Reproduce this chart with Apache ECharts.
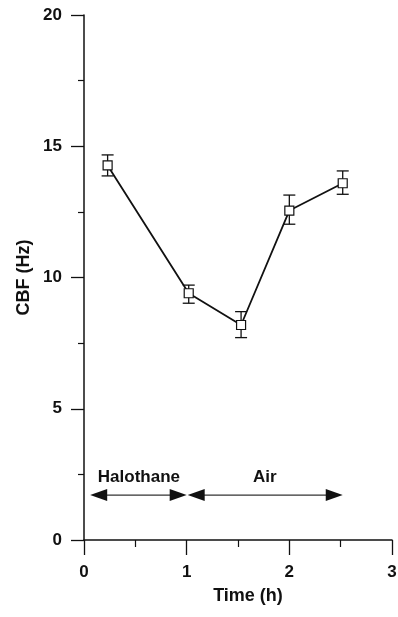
<!DOCTYPE html>
<html>
<head>
<meta charset="utf-8">
<script src="https://cdn.jsdelivr.net/npm/echarts@6/dist/echarts.min.js"></script>
<style>
html,body{margin:0;padding:0;background:#fff;}
#chart{width:398px;height:617px;}
</style>
</head>
<body>
<div id="chart"></div>
<script>
// ---- data ----
const timeH   = [0.23, 1.02, 1.53, 2.0, 2.52];
const cbfMean = [14.27, 9.4, 8.19, 12.55, 13.59];
const cbfLow  = [13.87, 9.02, 7.71, 12.03, 13.17];
const cbfHigh = [14.67, 9.71, 8.7, 13.14, 14.06];

const xMin = 0, xMax = 3, xStep = 1;
const yMin = 0, yMax = 20, yStep = 5;

const phaseNames  = ['Halothane', 'Air'];
const phaseStart  = [0.06, 1.01];
const phaseEnd    = [1.0, 2.52];
const phaseArrowY = [1.71, 1.71];
const phaseLabelX = [0.535, 1.76];
const phaseLabelY = [2.4, 2.4];

const FONT = 'Liberation Sans, Arial, sans-serif';
const INK = '#111';
const WEIGHT = 'bold';

const chart = echarts.init(document.getElementById('chart'), null, {renderer: 'canvas'});

const points = timeH.map((t, i) => [t, cbfMean[i]]);
const bars = timeH.map((t, i) => [t, cbfLow[i], cbfHigh[i]]);
const phases = phaseNames.map((n, i) => [phaseStart[i], phaseEnd[i], phaseArrowY[i], phaseLabelX[i], phaseLabelY[i], n]);

chart.setOption({
  animation: false,
  backgroundColor: '#fff',
  grid: {left: 84, right: 6, top: 15, bottom: 77, containLabel: false, outerBoundsMode: 'none'},
  xAxis: {
    type: 'value', min: xMin, max: xMax, interval: xStep,
    splitLine: {show: false},
    axisLine: {show: true, onZero: false, lineStyle: {color: INK, width: 1.5}},
    axisTick: {show: true, length: 15, lineStyle: {color: INK, width: 1.3}},
    minorTick: {show: true, splitNumber: 2, length: 7, lineStyle: {color: INK, width: 1.2}},
    axisLabel: {margin: 24, color: INK, fontSize: 17, fontWeight: WEIGHT, fontFamily: FONT},
    name: 'Time (h)', nameLocation: 'middle', nameGap: 47, nameMoveOverlap: false,
    nameTextStyle: {color: INK, fontSize: 18, fontWeight: WEIGHT, fontFamily: FONT, padding: [0, 0, 0, 20]}
  },
  yAxis: {
    type: 'value', min: yMin, max: yMax, interval: yStep,
    splitLine: {show: false},
    axisLine: {show: true, onZero: false, lineStyle: {color: INK, width: 1.5}},
    axisTick: {show: true, length: 13, lineStyle: {color: INK, width: 1.3}},
    minorTick: {show: true, splitNumber: 2, length: 6, lineStyle: {color: INK, width: 1.2}},
    axisLabel: {margin: 22, color: INK, fontSize: 17, fontWeight: WEIGHT, fontFamily: FONT},
    name: 'CBF (Hz)', nameLocation: 'middle', nameGap: 51, nameMoveOverlap: false,
    nameTextStyle: {color: INK, fontSize: 18, fontWeight: WEIGHT, fontFamily: FONT}
  },
  series: [
    {
      type: 'custom',
      z: 2,
      data: bars,
      renderItem: function (params, api) {
        const x = api.value(0);
        const lo = api.coord([x, api.value(1)]);
        const hi = api.coord([x, api.value(2)]);
        const cw = 6;
        const st = {stroke: INK, lineWidth: 1.3};
        return {type: 'group', children: [
          {type: 'line', shape: {x1: lo[0], y1: lo[1], x2: hi[0], y2: hi[1]}, style: st},
          {type: 'line', shape: {x1: lo[0] - cw, y1: lo[1], x2: lo[0] + cw, y2: lo[1]}, style: st},
          {type: 'line', shape: {x1: hi[0] - cw, y1: hi[1], x2: hi[0] + cw, y2: hi[1]}, style: st}
        ]};
      }
    },
    {
      type: 'line',
      z: 5,
      data: points,
      symbol: 'rect',
      symbolSize: 9,
      showAllSymbol: true,
      lineStyle: {color: INK, width: 1.8},
      itemStyle: {color: '#fff', borderColor: INK, borderWidth: 1.2}
    },
    {
      type: 'custom',
      z: 3,
      data: phases,
      renderItem: function (params, api) {
        const y = api.value(2);
        const a = api.coord([api.value(0), y]);
        const b = api.coord([api.value(1), y]);
        const t = api.coord([api.value(3), api.value(4)]);
        const hl = 17, hw = 6;
        return {type: 'group', children: [
          {type: 'line', shape: {x1: a[0] + hl - 2, y1: a[1], x2: b[0] - hl + 2, y2: b[1]}, style: {stroke: '#333', lineWidth: 1.3}},
          {type: 'polygon', shape: {points: [[a[0], a[1]], [a[0] + hl, a[1] - hw], [a[0] + hl, a[1] + hw]]}, style: {fill: INK}},
          {type: 'polygon', shape: {points: [[b[0], b[1]], [b[0] - hl, b[1] - hw], [b[0] - hl, b[1] + hw]]}, style: {fill: INK}},
          {type: 'text', x: t[0], y: t[1], style: {text: api.value(5), fill: INK, font: WEIGHT + ' 17px ' + FONT, textAlign: 'center', textVerticalAlign: 'middle'}}
        ]};
      }
    }
  ]
});
</script>
</body>
</html>
